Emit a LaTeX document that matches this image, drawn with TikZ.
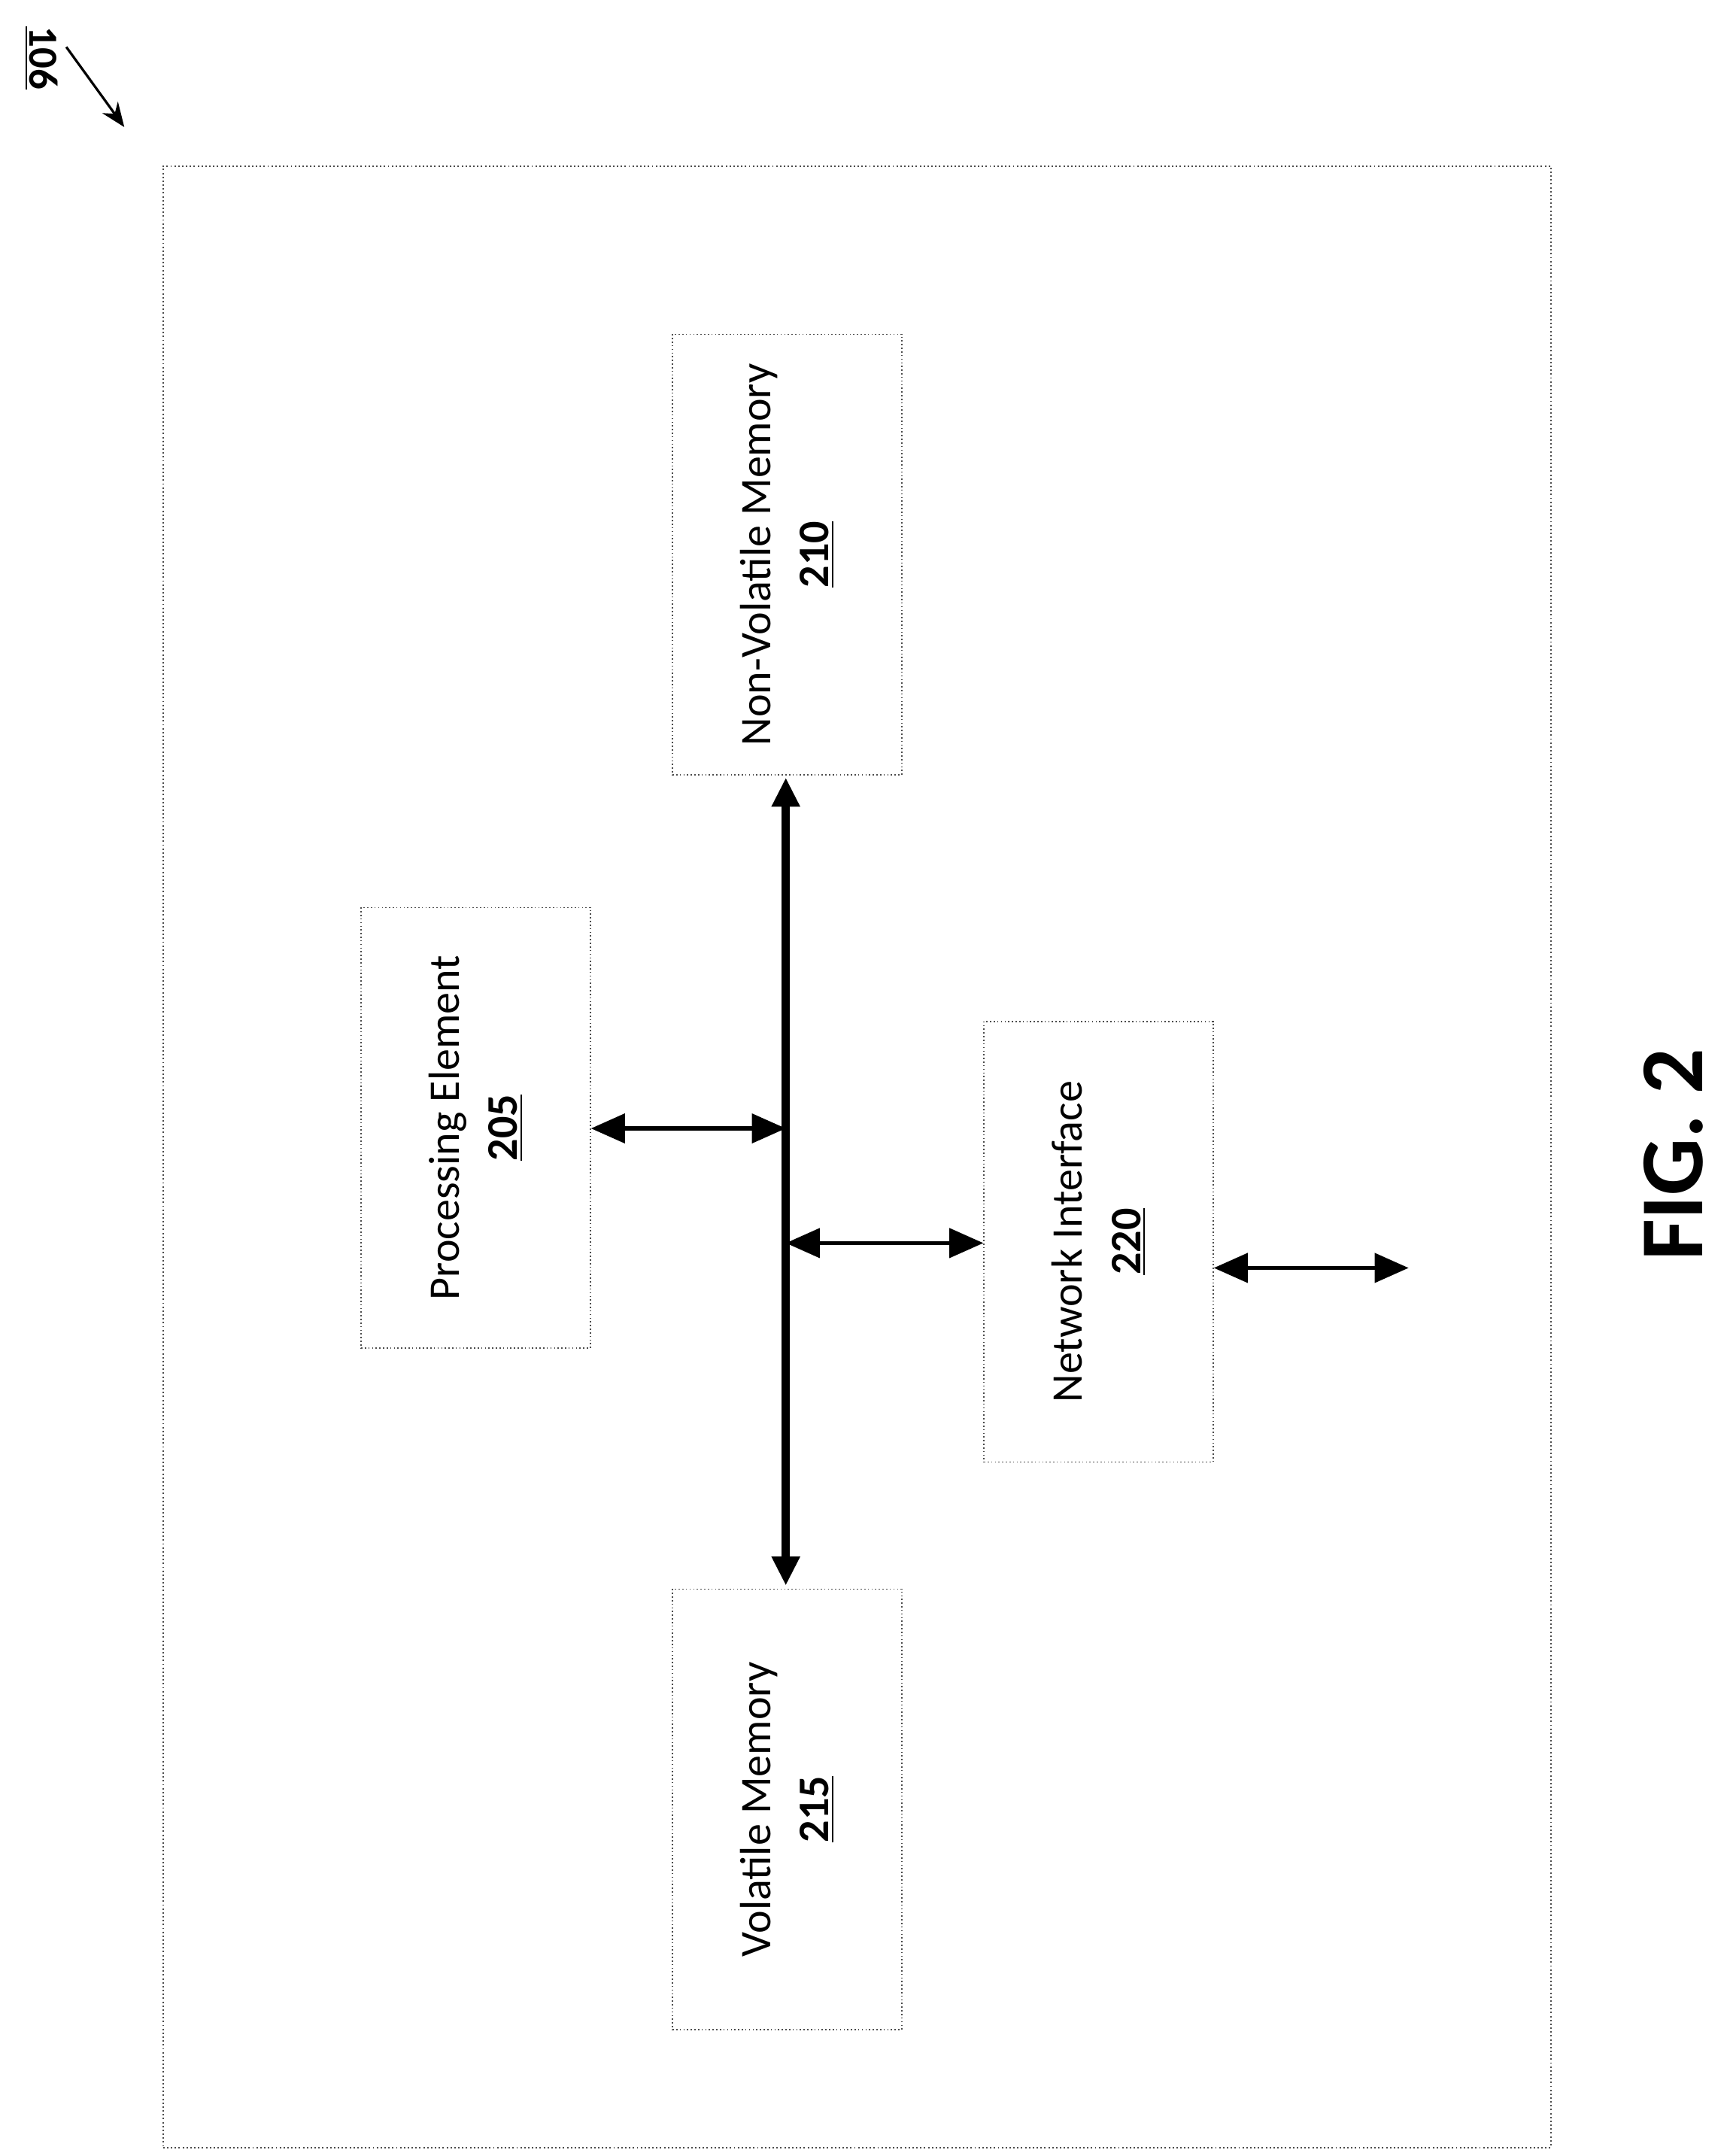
\documentclass[tikz,border=0pt]{standalone}
\usepackage{fontspec}
\setmainfont{Carlito}
\usetikzlibrary{arrows.meta}
\begin{document}
\begin{tikzpicture}[x=0.02cm,y=-0.02cm,
  blk/.style={draw=black!70,densely dotted,line width=0.5pt,rotate=90,minimum width=6.38cm,minimum height=3.32cm,align=center,font=\fontsize{18}{24}\selectfont,inner sep=0pt},
  arr/.style={line width=1.6pt,{Triangle[length=14pt,width=12pt]}-{Triangle[length=14pt,width=12pt]}},
  bus/.style={line width=3.5pt,{Triangle[length=12pt,width=11pt]}-{Triangle[length=12pt,width=11pt]}}]
\useasboundingbox (0,0) rectangle (1250,1561);
\node[draw=black!70,densely dotted,line width=0.6pt,minimum width=20.1cm,minimum height=28.7cm,inner sep=0pt] (outer) at (620.5,837.5) {};
\node[blk] (nvm) at (570,401.5) {Non-Volatile Memory\\\textbf{\underline{210}}};
\node[blk] (pe) at (344.5,816.5) {Processing Element\\\textbf{\underline{205}}};
\node[blk] (ni) at (795.5,899) {Network Interface\\\textbf{\underline{220}}};
\node[blk] (vm) at (570,1310) {Volatile Memory\\\textbf{\underline{215}}};
\coordinate (b1) at (569,817);
\coordinate (b2) at (569,900);
\coordinate (bt) at (569,563);
\coordinate (bb) at (569,1148);
\coordinate (ext) at (1020,918);
\draw[bus] (bt) -- (bb);
\draw[arr] (pe.south |- b1) -- (b1);
\draw[arr] (b2) -- (ni.north |- b2);
\draw[arr] (ni.south |- ext) -- (ext);
\node[rotate=-90,font=\fontsize{17}{20}\selectfont\bfseries] (ref) at (30,42) {\underline{106}};
\coordinate (refend) at (90,92);
\draw[line width=1pt,-{Stealth[length=10pt,width=8pt]}] (48,34) -- (refend);
\node[rotate=90,font=\fontsize{37}{44}\selectfont\bfseries] (fig) at (1212,836) {FIG. 2};
\end{tikzpicture}
\end{document}
